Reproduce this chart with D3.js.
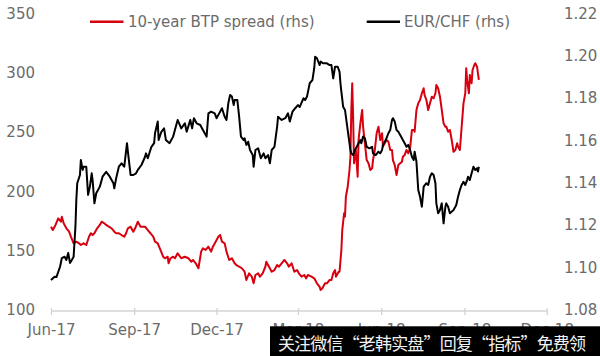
<!DOCTYPE html>
<html>
<head>
<meta charset="utf-8">
<script src="https://cdn.jsdelivr.net/npm/d3@7"></script>
<style>
  html, body { margin: 0; padding: 0; background: #fff; }
  svg { display: block; }
</style>
</head>
<body>
<svg id="chart" width="600" height="356"></svg>
<script>
// ---- Data (time axis: days since 1 Jun 2017) ----
const startDate = new Date(2017, 5, 1);
const endDate = new Date(2018, 11, 1);

const btpDay = [0,2,5,8,11,12,14,17,20,22,25,28,31,33,36,39,42,44,46,48,51,54,56,59,61,64,67,70,72,75,78,81,83,85,88,91,93,96,99,102,104,107,110,113,115,118,121,124,126,129,130,132,135,137,140,144,148,152,155,157,160,163,166,168,171,174,177,179,182,185,187,189,192,194,197,200,203,205,208,211,214,216,219,222,224,226,229,231,234,237,238,241,244,247,250,252,255,258,261,263,266,269,272,274,277,280,282,284,288,291,294,297,298,300,303,305,308,310,312,314,315,318,319,321,322,324,325,326,328,330,331,332,333,334,335,337,339,340,342,344,345,347,349,351,353,355,356,358,360,362,364,366,367,369,371,373,375,377,378,380,382,384,386,388,389,391,393,395,397,399,401,402,404,406,408,410,412,413,415,417,419,421,423,425,426,428,430,432,434,436,437,439,441,443,445,447,449,450,452,454,456,458,459,460,462,463,465,466,468,469,471,472,473];
const btpValue = [169.6,166.8,171.1,176.7,173.8,178.1,172.5,168.3,165.4,161.2,155.6,157.0,155.6,154.2,155.6,154.2,161.2,164.1,162.6,164.1,168.3,171.1,173.8,172.5,171.1,169.6,168.3,165.4,164.1,164.1,162.6,161.2,164.1,168.3,169.6,165.4,168.3,173.8,169.6,169.6,169.6,166.8,164.1,161.2,157.0,155.6,150.0,144.3,143.0,144.3,138.8,143.0,144.3,143.0,147.2,143.0,144.3,143.0,140.1,141.6,138.8,134.6,148.6,151.4,150.0,152.8,148.6,152.8,157.0,161.2,162.6,157.0,155.6,148.6,141.6,143.0,138.8,137.3,135.9,134.6,131.7,124.7,130.3,127.5,121.9,128.9,130.3,127.5,130.3,135.9,140.1,135.9,131.7,133.1,137.3,135.9,138.8,141.6,138.8,135.9,138.8,131.7,133.1,130.3,127.5,128.9,126.1,128.9,127.5,126.1,121.9,119.0,116.3,117.7,121.9,121.9,124.7,124.7,130.3,133.1,127.5,131.7,131.7,150.0,166.8,180.9,178.1,194.9,203.3,217.4,228.6,268.0,290.5,262.3,223.1,234.3,211.8,242.7,256.8,268.0,253.9,239.9,225.8,223.1,217.4,218.8,225.8,234.3,248.4,253.9,242.7,248.4,237.1,239.9,242.7,241.3,234.3,234.3,225.8,221.6,213.2,221.6,223.1,224.4,228.6,230.1,234.3,231.5,236.0,251.1,251.1,249.7,268.0,273.6,276.4,282.1,286.3,280.6,276.4,268.0,273.6,279.2,277.9,282.1,289.1,286.3,279.2,268.0,256.8,253.9,253.9,249.7,251.1,242.7,232.8,234.3,239.9,237.1,234.3,253.9,273.6,282.1,303.1,293.3,282.1,297.5,290.5,301.7,305.9,307.4,304.5,298.9,293.3];

const chfDay = [0,4,6,10,12,15,17,19,21,23,25,27,28,29,32,33,35,36,39,41,43,45,46,48,50,54,57,61,65,69,70,72,75,78,81,84,85,88,91,94,96,100,104,105,107,111,114,115,118,119,122,125,127,131,135,137,140,144,148,150,154,156,158,161,165,168,172,174,177,181,183,187,189,192,194,196,198,200,202,203,206,208,210,213,214,216,218,220,223,224,226,229,232,235,237,240,242,244,247,250,251,255,259,262,264,267,270,273,275,279,281,283,286,289,291,292,294,297,298,301,305,308,310,312,314,317,319,320,321,323,325,327,329,331,332,334,336,338,340,342,343,345,347,349,352,355,356,359,362,364,366,367,370,373,375,377,378,380,382,384,386,388,389,391,393,395,397,399,401,402,404,406,408,410,412,415,417,419,421,423,425,426,428,430,432,434,436,437,439,441,443,445,447,448,450,452,454,456,458,460,461,463,465,467,469,471,472,473];
const chfValue = [1.0938,1.0954,1.0952,1.1001,1.1042,1.1048,1.1033,1.1066,1.1019,1.1033,1.1048,1.1190,1.1316,1.1395,1.1434,1.1505,1.1458,1.1473,1.1473,1.1340,1.1379,1.1442,1.1410,1.1300,1.1348,1.1379,1.1426,1.1449,1.1426,1.1395,1.1371,1.1418,1.1473,1.1489,1.1473,1.1584,1.1544,1.1434,1.1434,1.1442,1.1458,1.1481,1.1520,1.1536,1.1513,1.1567,1.1584,1.1631,1.1686,1.1599,1.1638,1.1654,1.1599,1.1584,1.1615,1.1646,1.1694,1.1654,1.1678,1.1638,1.1694,1.1654,1.1702,1.1678,1.1670,1.1646,1.1615,1.1725,1.1733,1.1725,1.1702,1.1733,1.1749,1.1709,1.1694,1.1772,1.1812,1.1804,1.1764,1.1788,1.1788,1.1709,1.1615,1.1599,1.1607,1.1576,1.1591,1.1552,1.1528,1.1473,1.1552,1.1560,1.1513,1.1536,1.1513,1.1528,1.1489,1.1552,1.1567,1.1662,1.1709,1.1694,1.1702,1.1725,1.1686,1.1733,1.1749,1.1764,1.1755,1.1796,1.1788,1.1804,1.1867,1.1882,1.1938,1.1992,1.1985,1.1953,1.1969,1.1961,1.1961,1.1953,1.1953,1.1890,1.1945,1.1945,1.1921,1.1867,1.1827,1.1756,1.1741,1.1678,1.1615,1.1552,1.1536,1.1528,1.1552,1.1567,1.1584,1.1599,1.1584,1.1615,1.1607,1.1567,1.1560,1.1567,1.1536,1.1528,1.1544,1.1536,1.1552,1.1576,1.1599,1.1631,1.1646,1.1694,1.1702,1.1686,1.1646,1.1638,1.1623,1.1607,1.1599,1.1584,1.1567,1.1576,1.1552,1.1520,1.1505,1.1544,1.1497,1.1363,1.1331,1.1284,1.1379,1.1395,1.1387,1.1426,1.1442,1.1434,1.1395,1.1300,1.1253,1.1269,1.1300,1.1206,1.1284,1.1300,1.1284,1.1253,1.1261,1.1269,1.1284,1.1292,1.1331,1.1363,1.1387,1.1402,1.1387,1.1410,1.1426,1.1410,1.1442,1.1473,1.1458,1.1466,1.1450,1.1473];

const xTickLabels = ["Jun-17", "Sep-17", "Dec-17", "Mar-18", "Jun-18", "Sep-18", "Dec-18"];
const leftTicks = [100, 150, 200, 250, 300, 350];
const rightTicks = [1.08, 1.10, 1.12, 1.14, 1.16, 1.18, 1.20, 1.22];
const seriesNames = ["10-year BTP spread (rhs)", "EUR/CHF (rhs)"];
const seriesColors = ["#d7000f", "#000000"];
const watermarkText = "关注微信“老韩实盘”回复“指标”免费领";

// ---- Build ----
const toDate = d => d3.timeDay.offset(startDate, d);
const btp = btpDay.map((d, i) => ({ date: toDate(d), v: btpValue[i] }));
const chf = chfDay.map((d, i) => ({ date: toDate(d), v: chfValue[i] }));
const xTickDates = xTickLabels.map(s => d3.timeParse("%b-%y")(s));

const svg = d3.select("#chart");
const FONT = "'DejaVu Sans', sans-serif";
const TXT = "#6b6b6b";

const x = d3.scaleTime().domain([startDate, endDate]).range([51, 546.7]);
const yL = d3.scaleLinear().domain([100, 350]).range([309.3, 12.7]);
const yR = d3.scaleLinear().domain([1.08, 1.22]).range([309.3, 12.7]);

// x axis
const xAxis = d3.axisBottom(x)
  .tickValues(xTickDates)
  .tickFormat(d3.timeFormat("%b-%y"))
  .tickSizeInner(4.5).tickSizeOuter(0);
const gx = svg.append("g").attr("transform", "translate(0,310.5)").call(xAxis);
gx.select(".domain").attr("stroke", "#d3d3d3").attr("stroke-width", 1.3);
gx.selectAll(".tick line").attr("stroke", "#d3d3d3").attr("stroke-width", 1.3).attr("y1", -2.5);
gx.selectAll(".tick text").attr("y", 24.5).attr("dy", 0)
  .attr("fill", TXT).style("font-family", FONT).style("font-size", "15px");

// left axis
const gl = svg.append("g").attr("transform", "translate(35,0)")
  .call(d3.axisLeft(yL).tickValues(leftTicks).tickSize(0).tickPadding(0).tickFormat(d3.format("d")));
gl.select(".domain").remove();
gl.selectAll(".tick text").attr("dy", "0.36em").attr("fill", TXT)
  .style("font-family", FONT).style("font-size", "15px");

// right axis
const gr = svg.append("g").attr("transform", "translate(564,0)")
  .call(d3.axisRight(yR).tickValues(rightTicks).tickSize(0).tickPadding(0).tickFormat(d3.format(".2f")));
gr.select(".domain").remove();
gr.selectAll(".tick text").attr("dy", "0.36em").attr("fill", TXT)
  .style("font-family", FONT).style("font-size", "15px");

// lines
const lineL = d3.line().x(d => x(d.date)).y(d => yL(d.v));
const lineR = d3.line().x(d => x(d.date)).y(d => yR(d.v));
svg.append("path").datum(btp).attr("d", lineL)
  .attr("fill", "none").attr("stroke", seriesColors[0]).attr("stroke-width", 2)
  .attr("stroke-linejoin", "round");
svg.append("path").datum(chf).attr("d", lineR)
  .attr("fill", "none").attr("stroke", seriesColors[1]).attr("stroke-width", 2)
  .attr("stroke-linejoin", "round");

// legend
const legendPos = [{ x0: 90, x1: 123.5, tx: 128 }, { x0: 366.7, x1: 400, tx: 404 }];
seriesNames.forEach((name, i) => {
  const p = legendPos[i];
  svg.append("line").attr("x1", p.x0).attr("x2", p.x1).attr("y1", 21.7).attr("y2", 21.7)
    .attr("stroke", seriesColors[i]).attr("stroke-width", 2.5);
  svg.append("text").attr("x", p.tx).attr("y", 21.7).attr("dy", "0.36em")
    .attr("fill", TXT).style("font-family", FONT).style("font-size", "15px").text(name);
});

// watermark banner (covers the lower part of later tick labels, as in the source image)
svg.append("rect").attr("x", 270).attr("y", 326.3).attr("width", 330).attr("height", 30).attr("fill", "#000");
svg.append("text").attr("x", 278).attr("y", 342).attr("dominant-baseline", "central")
  .attr("fill", "#f2f2f2").style("font-family", "'Noto Sans CJK SC', sans-serif").style("font-size", "17px")
  .attr("textLength", 308).attr("lengthAdjust", "spacing")
  .text(watermarkText);
</script>
</body>
</html>
